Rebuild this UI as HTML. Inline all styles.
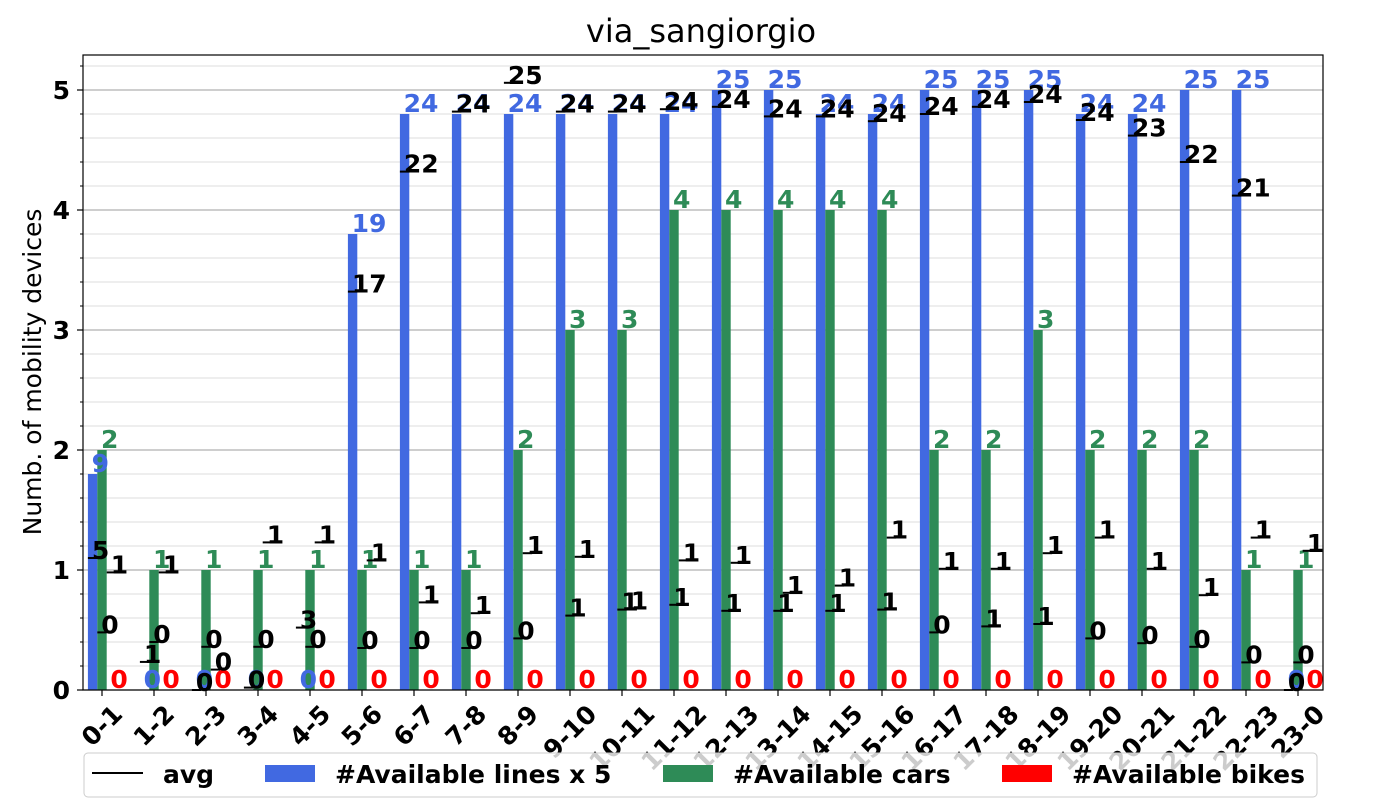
<!DOCTYPE html>
<html><head><meta charset="utf-8"><style>
html,body{margin:0;padding:0;background:#fff;}
svg{display:block;font-family:"DejaVu Sans","Liberation Sans",sans-serif;}
</style></head><body>
<svg id="chart" width="1400" height="800" viewBox="0 0 1400 800" xmlns="http://www.w3.org/2000/svg">
<rect x="0" y="0" width="1400" height="800" fill="#fff"/>
<text x="701" y="42" font-size="32" text-anchor="middle">via_sangiorgio</text>
<g id="grid"></g>
<g id="bars"></g>
<g id="labels"></g>
<g id="avgs"></g>
<rect x="83" y="55" width="1240" height="635" fill="none" stroke="#000" stroke-width="1.2"/>
<g id="axes"></g>
<text transform="translate(41,372) rotate(-90)" font-size="25" text-anchor="middle">Numb. of mobility devices</text>
<g font-size="25" font-weight="bold">
<rect x="84" y="753" width="1233" height="44" rx="4" fill="#fff" fill-opacity="0.8" stroke="#ccc"/>
<g><line x1="92" y1="773" x2="143" y2="773" stroke="#000" stroke-width="2"/><text x="163" y="783">avg</text></g>
<g><rect x="265" y="765" width="50" height="17" fill="#4169e1"/><text x="335" y="783">#Available lines x 5</text></g>
<g><rect x="663" y="765" width="50" height="17" fill="#2e8b57"/><text x="733" y="783">#Available cars</text></g>
<g><rect x="1002" y="765" width="50" height="17" fill="#ff0000"/><text x="1072" y="783">#Available bikes</text></g>
</g>
</svg>
<script>
const categories = ["0-1","1-2","2-3","3-4","4-5","5-6","6-7","7-8","8-9","9-10","10-11","11-12","12-13","13-14","14-15","15-16","16-17","17-18","18-19","19-20","20-21","21-22","22-23","23-0"];
const linesValues = [9,0,0,0,0,19,24,24,24,24,24,24,25,25,24,24,25,25,25,24,24,25,25,0];
const carsValues = [2,1,1,1,1,1,1,1,2,3,3,4,4,4,4,4,2,2,3,2,2,2,1,1];
const bikesValues = [0,0,0,0,0,0,0,0,0,0,0,0,0,0,0,0,0,0,0,0,0,0,0,0];
const linesAvg = [5.5,1.17,0,0.1,2.6,16.6,21.6,24.1,25.3,24.1,24.1,24.2,24.3,23.9,23.9,23.7,24.0,24.3,24.5,23.75,23.1,22.0,20.6,0];
const linesAvgLabels = ["5","1","0","0","3","17","22","24","25","24","24","24","24","24","24","24","24","24","24","24","23","22","21","0"];
const carsAvg = [0.48,0.4,0.36,0.36,0.36,0.35,0.35,0.35,0.43,0.62,0.67,0.71,0.66,0.66,0.66,0.67,0.48,0.53,0.55,0.43,0.39,0.36,0.23,0.23];
const carsAvgLabels = ["0","0","0","0","0","0","0","0","0","1","1","1","1","1","1","1","0","1","1","0","0","0","0","0"];
const bikesAvg = [0.98,0.98,0.17,1.23,1.23,1.08,0.73,0.64,1.14,1.11,0.68,1.08,1.06,0.81,0.87,1.27,1.01,1.01,1.14,1.27,1.01,0.79,1.27,1.16];
const bikesAvgLabels = ["1","1","0","1","1","1","1","1","1","1","1","1","1","1","1","1","1","1","1","1","1","1","1","1"];
const yTicks = [0,1,2,3,4,5];

const NS = "http://www.w3.org/2000/svg";
const X0 = 102, STEP = 52, BW = 9.4;
const Y0 = 690, YU = 120;
function xPos(i){ return X0 + i*STEP; }
function yPos(v){ return Y0 - v*YU; }
function mk(tag, attrs, parent){ const e=document.createElementNS(NS,tag); for(const k in attrs) e.setAttribute(k,attrs[k]); parent.appendChild(e); return e; }

const grid=document.getElementById('grid');
for(let k=1;k<=26;k++){
  const v=k*0.2; if(Math.abs(v-Math.round(v))<1e-6) continue;
  const l=mk('line',{x1:83,x2:1323,y1:yPos(v),y2:yPos(v),stroke:'#dedede','stroke-width':1},grid);
  
  
}
yTicks.forEach(v=>{
  const l=mk('line',{x1:83,x2:1323,y1:yPos(v),y2:yPos(v),stroke:'#b0b0b0','stroke-width':1.2},grid);
  
  
});

const bars=document.getElementById('bars'), labels=document.getElementById('labels'), avgs=document.getElementById('avgs');
const series=[
 {vals:linesValues.map(v=>v/5), txt:linesValues, color:'#4169e1', off:-1.5, name:'lines', avg:linesAvg.map(v=>v/5), avgL:linesAvgLabels},
 {vals:carsValues, txt:carsValues, color:'#2e8b57', off:-0.5, name:'cars', avg:carsAvg, avgL:carsAvgLabels},
 {vals:bikesValues, txt:bikesValues, color:'#ff0000', off:0.5, name:'bikes', avg:bikesAvg, avgL:bikesAvgLabels}
];
series.forEach(s=>{
  categories.forEach((c,i)=>{
    const left=xPos(i)+s.off*BW, h=s.vals[i]*YU;
    const r=mk('rect',{x:left,y:yPos(s.vals[i]),width:BW,height:h,fill:s.color},bars);
    
    
    const t=mk('text',{x:left+BW/2-1,y:yPos(s.vals[i])-2,fill:s.color,'font-size':25,'font-weight':'bold'},labels);
    t.textContent=s.txt[i];
    
    
  });
});
series.forEach(s=>{
  categories.forEach((c,i)=>{
    const left=xPos(i)+s.off*BW, y=yPos(s.avg[i]);
    const g=mk('g',{},avgs);
    
    
    mk('line',{x1:left,x2:left+BW,y1:y,y2:y,stroke:'#000','stroke-width':2},g);
    const t=mk('text',{x:left+4,y:y+1,'font-size':25,'font-weight':'bold',fill:'#000'},g);
    t.textContent=s.avgL[i];
  });
});

const axes=document.getElementById('axes');
yTicks.forEach(v=>{
  mk('line',{x1:77,x2:83,y1:yPos(v),y2:yPos(v),stroke:'#000','stroke-width':1.2},axes);
  const t=mk('text',{x:70,y:yPos(v)+9,'font-size':25,'font-weight':'bold','text-anchor':'end'},axes);
  t.textContent=v;
  
  
});
for(let k=1;k<=26;k++){
  const v=k*0.2; if(Math.abs(v-Math.round(v))<1e-6) continue;
  mk('line',{x1:80,x2:83,y1:yPos(v),y2:yPos(v),stroke:'#000','stroke-width':1},axes);
}
categories.forEach((c,i)=>{
  const x=xPos(i);
  mk('line',{x1:x,x2:x,y1:690,y2:696,stroke:'#000','stroke-width':1.2},axes);
  const t=mk('text',{x:x,y:0,'font-size':25,'font-weight':'bold','text-anchor':'middle','dominant-baseline':'central'},axes);
  t.textContent=c;
  
  
  const L=t.getComputedTextLength();
  const yc=703+(L+19)/(2*Math.SQRT2);
  t.setAttribute('y',yc);
  t.setAttribute('transform','rotate(-45 '+x+' '+yc+')');
});
</script>
</body></html>
